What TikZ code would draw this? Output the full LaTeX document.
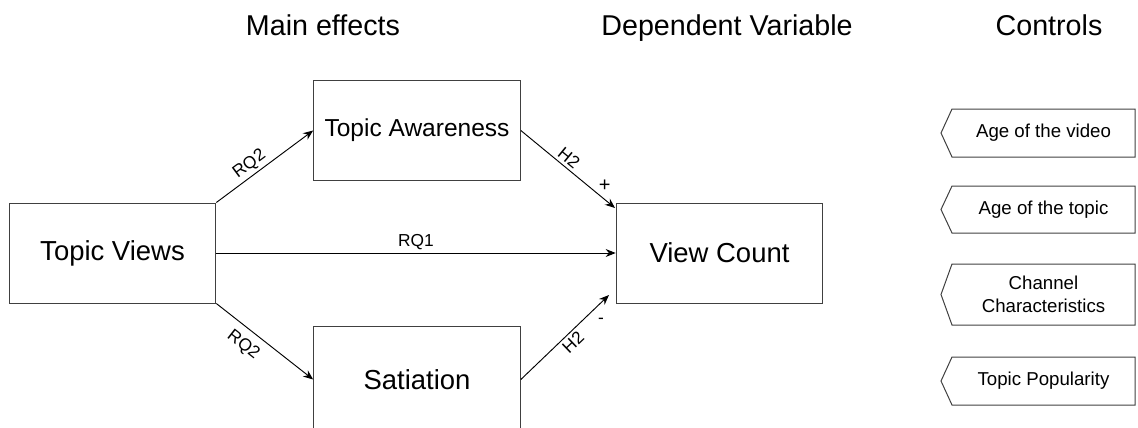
\documentclass[tikz,border=0pt]{standalone}
\usepackage{fontspec}
\setmainfont{Liberation Sans}
\usetikzlibrary{arrows.meta,positioning}

\tikzset{
  box/.style={draw=black!75, line width=0.75pt, minimum width=155pt, minimum height=75pt, inner sep=0pt, font=\fontsize{20.6}{24}\selectfont},
  head/.style={anchor=base, font=\fontsize{21.5}{26}\selectfont},
  lab/.style={inner sep=2pt, font=\fontsize{13}{15}\selectfont},
  link/.style={-{Stealth[length=7.5pt,width=6pt]}, line width=0.7pt},
  ctrl/.style={draw=black!75, line width=0.75pt},
  ctrltext/.style={align=center, font=\fontsize{14}{17}\selectfont}
}

\begin{document}
\begin{tikzpicture}[x=0.75pt,y=-0.75pt]
  \useasboundingbox (0,0) rectangle (1138,428);
  \node[head] (mainhead) at (323,36) {Main effects};
  \node[head] (dvhead) at (727,36) {Dependent Variable};
  \node[head] (ctrlhead) at (1049,36) {Controls};

  \node[box] (views) at (112.5,253) {Topic Views};
  \node[box, font=\fontsize{18.4}{22}\selectfont] (aware) at (417,130.5) {Topic Awareness};
  \node[box] (count) at (719.5,253) {View Count};
  \node[box, minimum height=79pt] (sat) at (417,379.5) {Satiation};
  \coordinate (hplus) at (615,208);
  \coordinate (hminus) at (609,295);

  \draw[link] (views.north east) -- (aware.west) node[lab, pos=0.41, above, sloped] {RQ2};
  \draw[link] (views.east) -- (count.west) node[lab, midway, above] {RQ1};
  \draw[link] (views.south east) -- (sat.west) node[lab, pos=0.38, below=4pt, sloped] {RQ2};
  \draw[link] (aware.east) -- (hplus) node[lab, pos=0.45, above, sloped] {H2}
    node[lab, pos=0.81, anchor=south west, inner sep=1pt, font=\fontsize{15}{17}\selectfont] {+};
  \draw[link] (sat.east) -- (hminus) node[lab, pos=0.52, below, sloped] {H2}
    node[lab, pos=0.81, anchor=north west, xshift=2pt, yshift=-3pt] {-};

  \foreach \yt/\yb/\txt [count=\i] in {109/157/Age of the video, 186/233/Age of the topic, 264/325/{Channel\\Characteristics}, 357/405/Topic Popularity} {
    \draw[ctrl] (952,\yt) -- (1135,\yt) -- (1135,\yb) -- (952,\yb) -- (941,{(\yt+\yb)/2}) -- cycle;
    \node[ctrltext] (ctrl\i) at (1043.5,{(\yt+\yb)/2}) {\txt};
  }
\end{tikzpicture}
\end{document}
